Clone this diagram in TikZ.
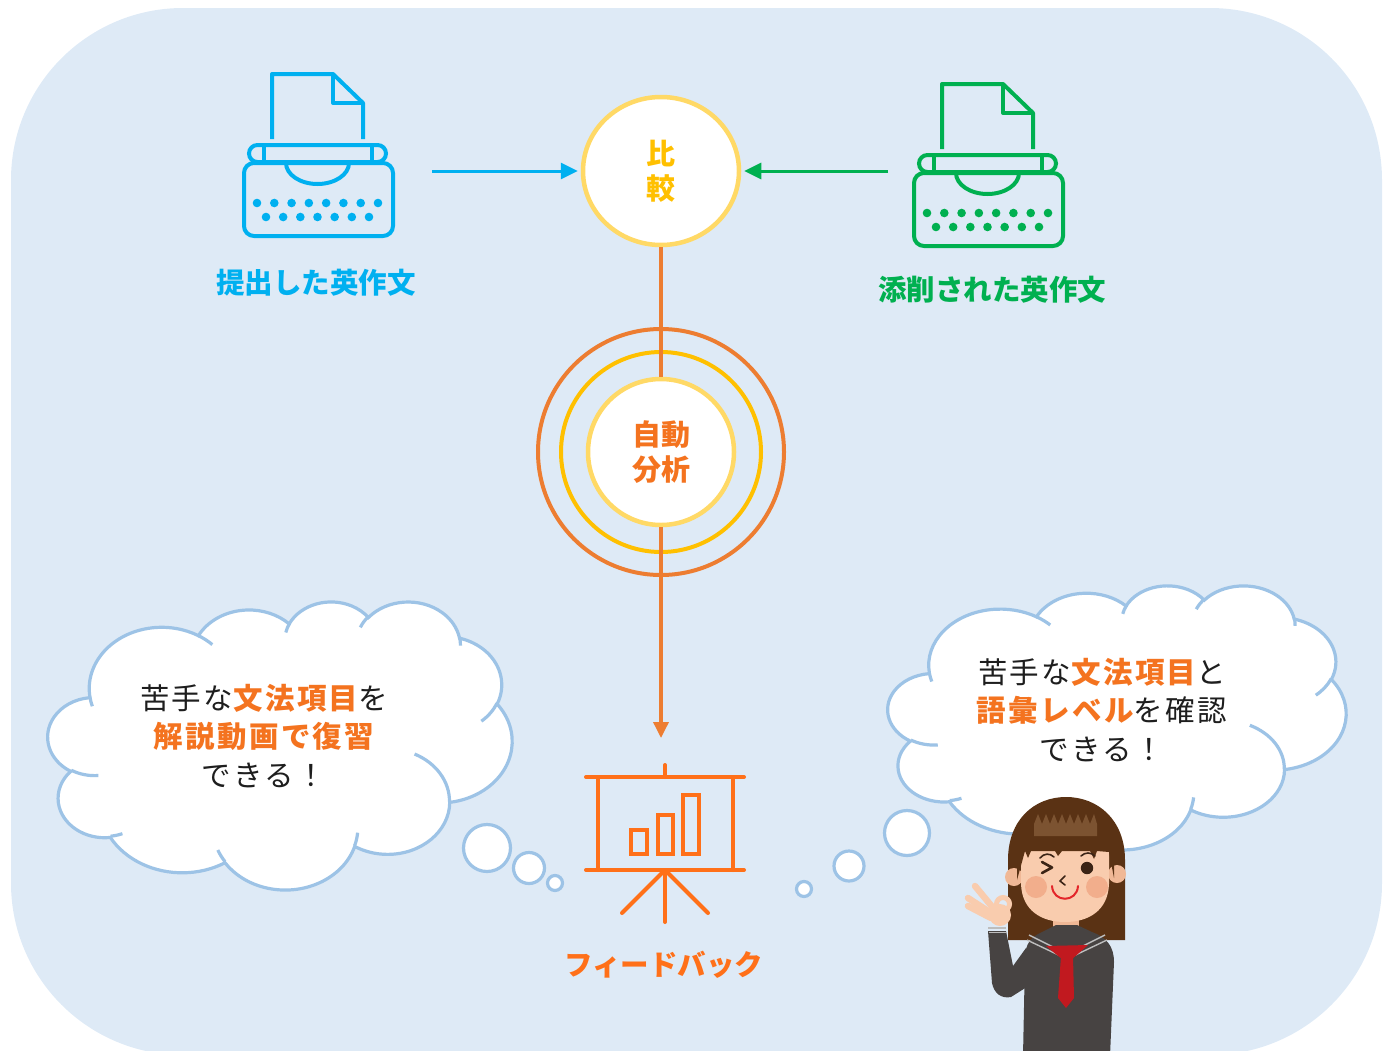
\documentclass[tikz,border=0pt]{standalone}
\usepackage{fontspec}
\usetikzlibrary{arrows.meta,shapes.geometric}
\newfontfamily\jp{Noto Sans CJK JP}
\newfontfamily\jpsp{Noto Sans CJK JP}[LetterSpace=8]

\definecolor{bgblue}{HTML}{DEEAF6}
\definecolor{twblue}{HTML}{00B0F0}
\definecolor{twgreen}{HTML}{00B050}
\definecolor{ringyel}{HTML}{FFD966}
\definecolor{gold}{HTML}{FFC000}
\definecolor{ringor}{HTML}{ED7D31}
\definecolor{ortext}{HTML}{F4731F}
\definecolor{fbor}{HTML}{FF7019}
\definecolor{cloudblue}{HTML}{9DC3E6}
\definecolor{inkdark}{HTML}{1E1E1E}
\definecolor{hairdk}{HTML}{5A3214}
\definecolor{hairlt}{HTML}{7C5331}
\definecolor{skin}{HTML}{F9CCAE}
\definecolor{skindk}{HTML}{F0B896}
\definecolor{blush}{HTML}{F2AE8C}
\definecolor{uniform}{HTML}{474342}
\definecolor{stripe}{HTML}{BDBDBD}
\definecolor{tiered}{HTML}{C1191F}
\definecolor{mouthred}{HTML}{E3262A}
\definecolor{eyedark}{HTML}{3B2416}

% Elliptical arc whose start angle and sweep are direction angles
% (DrawingML convention); converted to TikZ's parametric angles.
\newcommand\ooarc[4]{%
  \pgfextra{%
    \pgfmathparse{atan2((#1)*sin(#3),(#2)*cos(#3))}\xdef\oaS{\pgfmathresult}%
    \pgfmathparse{atan2((#1)*sin((#3)+(#4)),(#2)*cos((#3)+(#4)))}\xdef\oaE{\pgfmathresult}%
    \pgfmathparse{\oaE-\oaS}\xdef\oaD{\pgfmathresult}%
    \pgfmathparse{\oaD-360*round((\oaD-(#4))/360)}\xdef\oaD{\pgfmathresult}%
  }%
  arc[start angle=\oaS, delta angle=\oaD, x radius=#1, y radius=#2]%
}

% Cloud outline on a 4320 x 4320 grid
\newcommand\cloudbody{%
  (390,1437)
  \ooarc{675.3}{919.0}{-190.48748}{123.78053}
  \ooarc{533.3}{726.7}{-144.10238}{89.94523}
  \ooarc{436.5}{594.5}{-145.80792}{99.72302}
  \ooarc{485.7}{659.5}{-130.98607}{117.24173}
  \ooarc{533.3}{727.3}{-78.70888}{109.02692}
  \ooarc{677.5}{922.0}{-46.26725}{130.269}
  \ooarc{578.5}{786.7}{0.62502}{114.03333}
  \ooarc{675.2}{921.5}{22.4516}{115.17255}
  \ooarc{772.0}{1054.3}{66.24263}{75.71102}
  \ooarc{436.0}{591.8}{-274.94208}{146.73557}
  \ooarc{434.5}{594.5}{-246.8285}{152.51885}
  -- cycle}

% short inner strokes where the puffs meet
\newcommand\cloudtails{%
  (469.3,2617.7) \ooarc{434.5}{594.5}{86.742}{26.4295}
  (692.8,3489.9) \ooarc{436.0}{591.8}{73.61047}{11.44747}
  (1647.8,3909.0) \ooarc{675.2}{921.5}{137.62415}{14.0811}
  (2882.7,3475.1) \ooarc{675.2}{921.5}{6.45327}{15.99835}
  (3412.9,2295.4) \ooarc{578.5}{786.7}{-70.29235}{70.91737}
  (4179.8,1535.4) \ooarc{533.3}{727.3}{30.31803}{27.7515}
  (3832.4,542.6) \ooarc{485.7}{659.5}{-13.74433}{14.8589}
  (2907.8,395.2) \ooarc{485.7}{659.5}{-149.18145}{18.19537}
  (2214.1,472.0) \ooarc{436.5}{594.5}{-163.49427}{17.68635}
  (1400.0,519.2) \ooarc{675.3}{919.0}{-66.70695}{12.31935}
  (412.7,1578.9) \ooarc{675.3}{919.0}{157.65435}{11.85817}
}

\tikzset{
  typewriter/.pic={
    \draw[line width=4pt, line join=round] (0,65) -- (0,0) -- (61,0) -- (91,29) -- (91,65);
    \draw[line width=4pt, line join=round] (61,0) -- (61,29) -- (91,29);
    \draw[line width=4pt, rounded corners=8.5pt] (-23,71) rectangle (114,88);
    \draw[line width=4pt] (-8,71) -- (-8,88) (100,71) -- (100,88);
    \draw[line width=4pt, rounded corners=10pt] (-28,89) rectangle (121,162);
    \draw[line width=4pt] (14,89) arc[start angle=180, end angle=0, x radius=31.5, y radius=21];
    \foreach \i in {0,...,7} \fill (-15+\i*17.286,129) circle[radius=4.3];
    \foreach \i in {0,...,6} \fill (-6+\i*17.167,143) circle[radius=4.3];
  },
  lbl/.style={font=\jp\bfseries\fontsize{28.5}{34}\selectfont, inner sep=0pt},
  badge/.style={font=\jp\bfseries\fontsize{29}{34.5}\selectfont, align=center, inner sep=0pt},
  flow/.style={line width=3pt, shorten >=3pt, -{Triangle[length=17pt,width=16pt]}},
  cloudshape/.style={draw=cloudblue, fill=white, line width=3.2pt},
  cloudedge/.style={draw=cloudblue, line width=3.2pt},
  cloudtxt/.style={font=\jpsp\fontsize{29.5}{38.5}\selectfont, align=center, text=inkdark, inner sep=0pt}
}
\newcommand\hot[1]{{\bfseries\color{ortext}#1}}

\begin{document}
\begin{tikzpicture}[x=1pt,y=1pt,yscale=-1]
\useasboundingbox (0,0) rectangle (1390,1050);
\fill[bgblue, rounded corners=172pt] (11,8) rectangle (1382,1055);

% the two typewriters and their captions
\pic[color=twblue, transform shape] at (272,74) {typewriter};
\pic[color=twgreen, transform shape] at (942,84) {typewriter};
\node[lbl, text=twblue] (subLbl) at (316,283) {提出した英作文};
\node[lbl, text=twgreen] (corLbl) at (992,290) {添削された英作文};

% analysis rings
\node[circle, draw=ringor, line width=4pt, minimum size=246pt, inner sep=0pt] (ringOut) at (661,452) {};
\node[circle, draw=gold, line width=4pt, minimum size=200pt, inner sep=0pt] (ringMid) at (661,452) {};
\node[circle, draw=ringyel, fill=white, line width=4.5pt, minimum size=146pt, inner sep=0pt,
      badge, text=ortext] (ana) at (661,452) {自動\\分析};

% comparison
\node[ellipse, draw=ringyel, fill=white, line width=4.5pt, minimum width=156pt, minimum height=148pt,
      inner sep=0pt, badge, text=gold] (cmp) at (661,171) {比\\較};

\coordinate (subOut) at (432,171);
\coordinate (corOut) at (888,171);
\draw[flow, twblue] (subOut) -- (cmp.west);
\draw[flow, twgreen] (corOut) -- (cmp.east);

\coordinate (fbTip) at (661,738);
\draw[line width=3.5pt, ringor] (cmp.south) -- (ana.north);
\draw[line width=3.5pt, ringor, -{Triangle[length=16pt,width=15pt]}] (ana.south) -- (fbTip);

% feedback board
\begin{scope}[fbor, line width=4pt, line cap=round]
  \draw (665,765) -- (665,777);
  \draw (586,777) -- (744,777);
  \draw (598,777) -- (598,870);
  \draw (733,777) -- (733,870);
  \draw (586,870) -- (744,870);
  \draw (665,870) -- (665,922);
  \draw (665,870) -- (622,913);
  \draw (665,870) -- (708,913);
  \draw (631,830) rectangle (647,854);
  \draw (658,815) rectangle (673,854);
  \draw (683,795) rectangle (699,854);
\end{scope}
\node[lbl, text=fbor] (fbLbl) at (664,965) {フィードバック};

% left thought cloud
\begin{scope}[shift={(48,601)}, xscale=0.10741, yscale=0.06667]
  \filldraw[cloudshape] \cloudbody;
  \draw[cloudedge] \cloudtails;
\end{scope}
\foreach \cx/\cy/\r in {487/848/23.5, 529/868/15.5, 555/883/7.5}
  \filldraw[cloudshape] (\cx,\cy) circle[radius=\r];
\node[cloudtxt] (txtL) at (264,736) {苦手な\hot{文法項目}を\\\hot{解説動画で復習}\\できる！};

% right thought cloud
\begin{scope}[shift={(888,585)}, xscale=0.10602, yscale=0.06111]
  \filldraw[cloudshape] \cloudbody;
  \draw[cloudedge] \cloudtails;
\end{scope}
\foreach \cx/\cy/\r in {907/833/22.5, 849/866/15, 804/889/7.5}
  \filldraw[cloudshape] (\cx,\cy) circle[radius=\r];
\node[cloudtxt] (txtR) at (1102,710) {苦手な\hot{文法項目}と\\\hot{語彙レベル}を確認\\できる！};

% student
\fill[hairdk] (1008,940) -- (1008,860) .. controls (1008,820) and (1034,797) .. (1066,797)
  .. controls (1098,797) and (1125,820) .. (1125,860) -- (1125,940) -- cycle;
\fill[skindk] (1014,877) circle[radius=9];
\fill[skindk] (1117,874) circle[radius=9];
\fill[skindk] (1053,912) rectangle (1079,940);
\fill[skin] (1021,845) -- (1021,884) .. controls (1022,911) and (1042,922) .. (1065,922)
  .. controls (1088,922) and (1108,911) .. (1109,884) -- (1109,845) -- cycle;
\fill[hairdk] (1017,880) -- (1017,848) .. controls (1019,818) and (1040,806) .. (1066,806)
  .. controls (1092,806) and (1113,818) .. (1114,848) -- (1114,878) -- (1109,852) -- (1097,851)
  -- (1094,859) -- (1090,851) -- (1062,851) -- (1058,856) -- (1055,851) -- (1031,851)
  -- (1028,858) -- (1025,851) -- cycle;
\fill[hairlt] (1034,836) -- (1034,824) -- (1038,814) -- (1042,824) -- (1046,814) -- (1050,824)
  -- (1054,814) -- (1058,824) -- (1062,814) -- (1066,824) -- (1070,814) -- (1074,824)
  -- (1078,814) -- (1082,824) -- (1086,814) -- (1090,824) -- (1094,814) -- (1097,824)
  -- (1097,836) -- cycle;
\fill[blush] (1036,887) circle[radius=11];
\fill[blush] (1097,887) circle[radius=11];
\draw[eyedark, line width=2.6pt, line cap=round, line join=round] (1042,862) -- (1052,867.5) -- (1042,873);
\fill[eyedark] (1087,868) circle[radius=6.2];
\draw[eyedark, line width=1.6pt, line cap=round] (1040,858) .. controls (1044,853) and (1050,853) .. (1054,857);
\draw[eyedark, line width=1.6pt, line cap=round] (1081,856) .. controls (1085,852) and (1091,852) .. (1095,856);
\draw[eyedark, line width=1.6pt, line cap=round, line join=round] (1065,876) -- (1060,881) -- (1065,885);
\draw[mouthred, line width=2pt, line cap=round] (1052,886) .. controls (1053,903) and (1077,903) .. (1078,886);
% uniform
\fill[uniform] (988,931) -- (1006,931) -- (1013,966) -- (1026,948) -- (1030,985) -- (1011,997)
  .. controls (1001,999) and (994,993) .. (992,983) -- cycle;
\fill[uniform] (1023,1056) -- (1025,958) .. controls (1025,944) and (1031,937) .. (1042,932)
  -- (1056,925) -- (1077,925) -- (1092,932) .. controls (1106,937) and (1114,946) .. (1114,962)
  -- (1110,1056) -- cycle;
\draw[stripe, line width=1.4pt] (988,928) -- (1006,928) (988.5,932.5) -- (1006.5,932.5);
\draw[stripe, line width=1.4pt] (1029,935) -- (1067,954) -- (1105,935);
\draw[stripe, line width=1.4pt] (1027,940) -- (1067,959) -- (1107,940);
\fill[tiered] (1046,946) -- (1088,945) -- (1071,960) -- (1063,960) -- cycle;
\fill[tiered] (1061,956) -- (1073,956) -- (1074,998) -- (1066,1008) -- (1058,998) -- cycle;
% hand making an OK sign
\fill[skin] (1000,915) circle[radius=11];
\draw[skin, line width=6.5pt, line cap=round] (994,909) -- (975,886);
\draw[skin, line width=6.5pt, line cap=round] (991,913) -- (968,898);
\draw[skin, line width=6.5pt, line cap=round] (991,918) -- (968,906);
\draw[skin, line width=5pt] (1003,904) circle[radius=6.5];
\end{tikzpicture}
\end{document}
